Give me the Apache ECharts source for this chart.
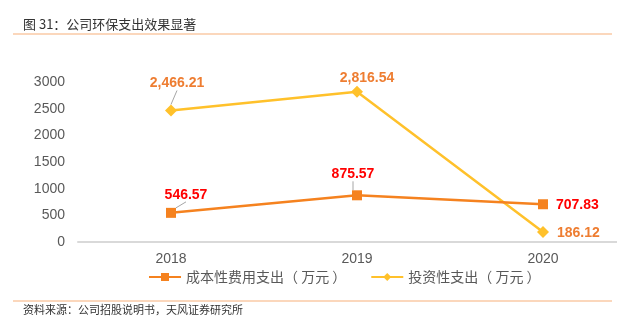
<!DOCTYPE html>
<html>
<head>
<meta charset="utf-8">
<script src="https://cdn.jsdelivr.net/npm/echarts@6/dist/echarts.min.js"></script>
<style>
  html, body { margin: 0; padding: 0; background: #fff; }
  #chart { width: 617px; height: 324px; }
</style>
</head>
<body>
<div id="chart"></div>
<script>
// Years on the category axis
const years = ['2018', '2019', '2020'];
// 成本性费用支出（万元）
const costSpend = [546.57, 875.57, 707.83];
// 投资性支出（万元）
const investSpend = [2466.21, 2816.54, 186.12];
// Value axis ticks
const yMin = 0, yMax = 3000, yStep = 500;

const costName = '成本性费用支出（ 万元 ）';
const investName = '投资性支出（ 万元 ）';

const fmtThousands = v => v.toLocaleString('en-US', { minimumFractionDigits: 2, maximumFractionDigits: 2 });

// Label nudges per point (relative to the default label spot above the point)
const costShift = [{ dx: 15, dy: -1 }, { dx: -4, dy: -4 }, { dx: 0, dy: 1 }];
const investShift = [{ dx: 6, dy: -9 }, { dx: 10, dy: 4 }, { dx: 0, dy: 1 }];
// Which points get a short leader line to their label
const costLeader = [true, true, false];
const investLeader = [true, false, false];

const chart = echarts.init(document.getElementById('chart'), null, { renderer: 'canvas' });

const labelFont = 'Liberation Sans, Arial, Helvetica, sans-serif';
const cjkFont = '"Noto Sans CJK SC", sans-serif';

function buildData(values, leaders) {
  return values.map((v, i) => {
    const item = { value: v, labelLine: { show: leaders[i] } };
    if (i === values.length - 1) item.label = { position: 'right', distance: 8 };
    return item;
  });
}

chart.setOption({
  animation: false,
  backgroundColor: '#ffffff',
  textStyle: { fontFamily: labelFont },
  graphic: [
    { type: 'text', left: 23, top: 18,
      style: { text: '图 31：公司环保支出效果显著', font: '13px ' + cjkFont, fill: '#333333' } },
    { type: 'line', shape: { x1: 13, y1: 34, x2: 612, y2: 34 }, style: { stroke: '#F8B07A', lineWidth: 1.2 } },
    { type: 'line', shape: { x1: 13, y1: 301, x2: 612, y2: 301 }, style: { stroke: '#F8B07A', lineWidth: 1.2 } },
    { type: 'text', left: 23, top: 304,
      style: { text: '资料来源：公司招股说明书，天风证券研究所', font: '11px ' + cjkFont, fill: '#333333' } }
  ],
  grid: { left: 78, top: 82, width: 558, height: 160, containLabel: false, outerBoundsMode: 'none' },
  legend: {
    left: 143, top: 265,
    itemWidth: 32, itemHeight: 10, itemGap: 24,
    textStyle: { fontSize: 14, color: '#595959', fontFamily: cjkFont },
    data: [costName, investName]
  },
  xAxis: {
    type: 'category',
    data: years,
    boundaryGap: true,
    axisLine: { lineStyle: { color: '#D9D9D9', width: 2 } },
    axisTick: { show: false },
    axisLabel: { color: '#595959', fontSize: 14, margin: 10, fontFamily: labelFont }
  },
  yAxis: {
    type: 'value',
    min: yMin, max: yMax, interval: yStep,
    axisLine: { show: false },
    axisTick: { show: false },
    splitLine: { show: false },
    axisLabel: { color: '#595959', fontSize: 14, margin: 13, fontFamily: labelFont, formatter: v => String(v) }
  },
  series: [
    {
      name: costName,
      type: 'line',
      data: buildData(costSpend, costLeader),
      symbol: 'rect',
      symbolSize: 10,
      itemStyle: { color: '#F5821F' },
      lineStyle: { color: '#F5821F', width: 2.5 },
      label: {
        show: true,
        position: 'top',
        color: '#FF0000', fontSize: 14, fontWeight: 'bold', fontFamily: labelFont,
        formatter: p => fmtThousands(p.value)
      },
      labelLine: { show: true, lineStyle: { color: '#A6A6A6', width: 1 } },
      labelLayout: p => costShift[p.dataIndex],
      z: 3
    },
    {
      name: investName,
      type: 'line',
      data: buildData(investSpend, investLeader),
      symbol: 'diamond',
      symbolSize: 12,
      itemStyle: { color: '#FFC12B' },
      lineStyle: { color: '#FFC12B', width: 2.5 },
      label: {
        show: true,
        position: 'top',
        color: '#EE7D31', fontSize: 14, fontWeight: 'bold', fontFamily: labelFont,
        formatter: p => fmtThousands(p.value)
      },
      labelLine: { show: true, lineStyle: { color: '#A6A6A6', width: 1 } },
      labelLayout: p => investShift[p.dataIndex],
      z: 2
    }
  ]
});
</script>
</body>
</html>
